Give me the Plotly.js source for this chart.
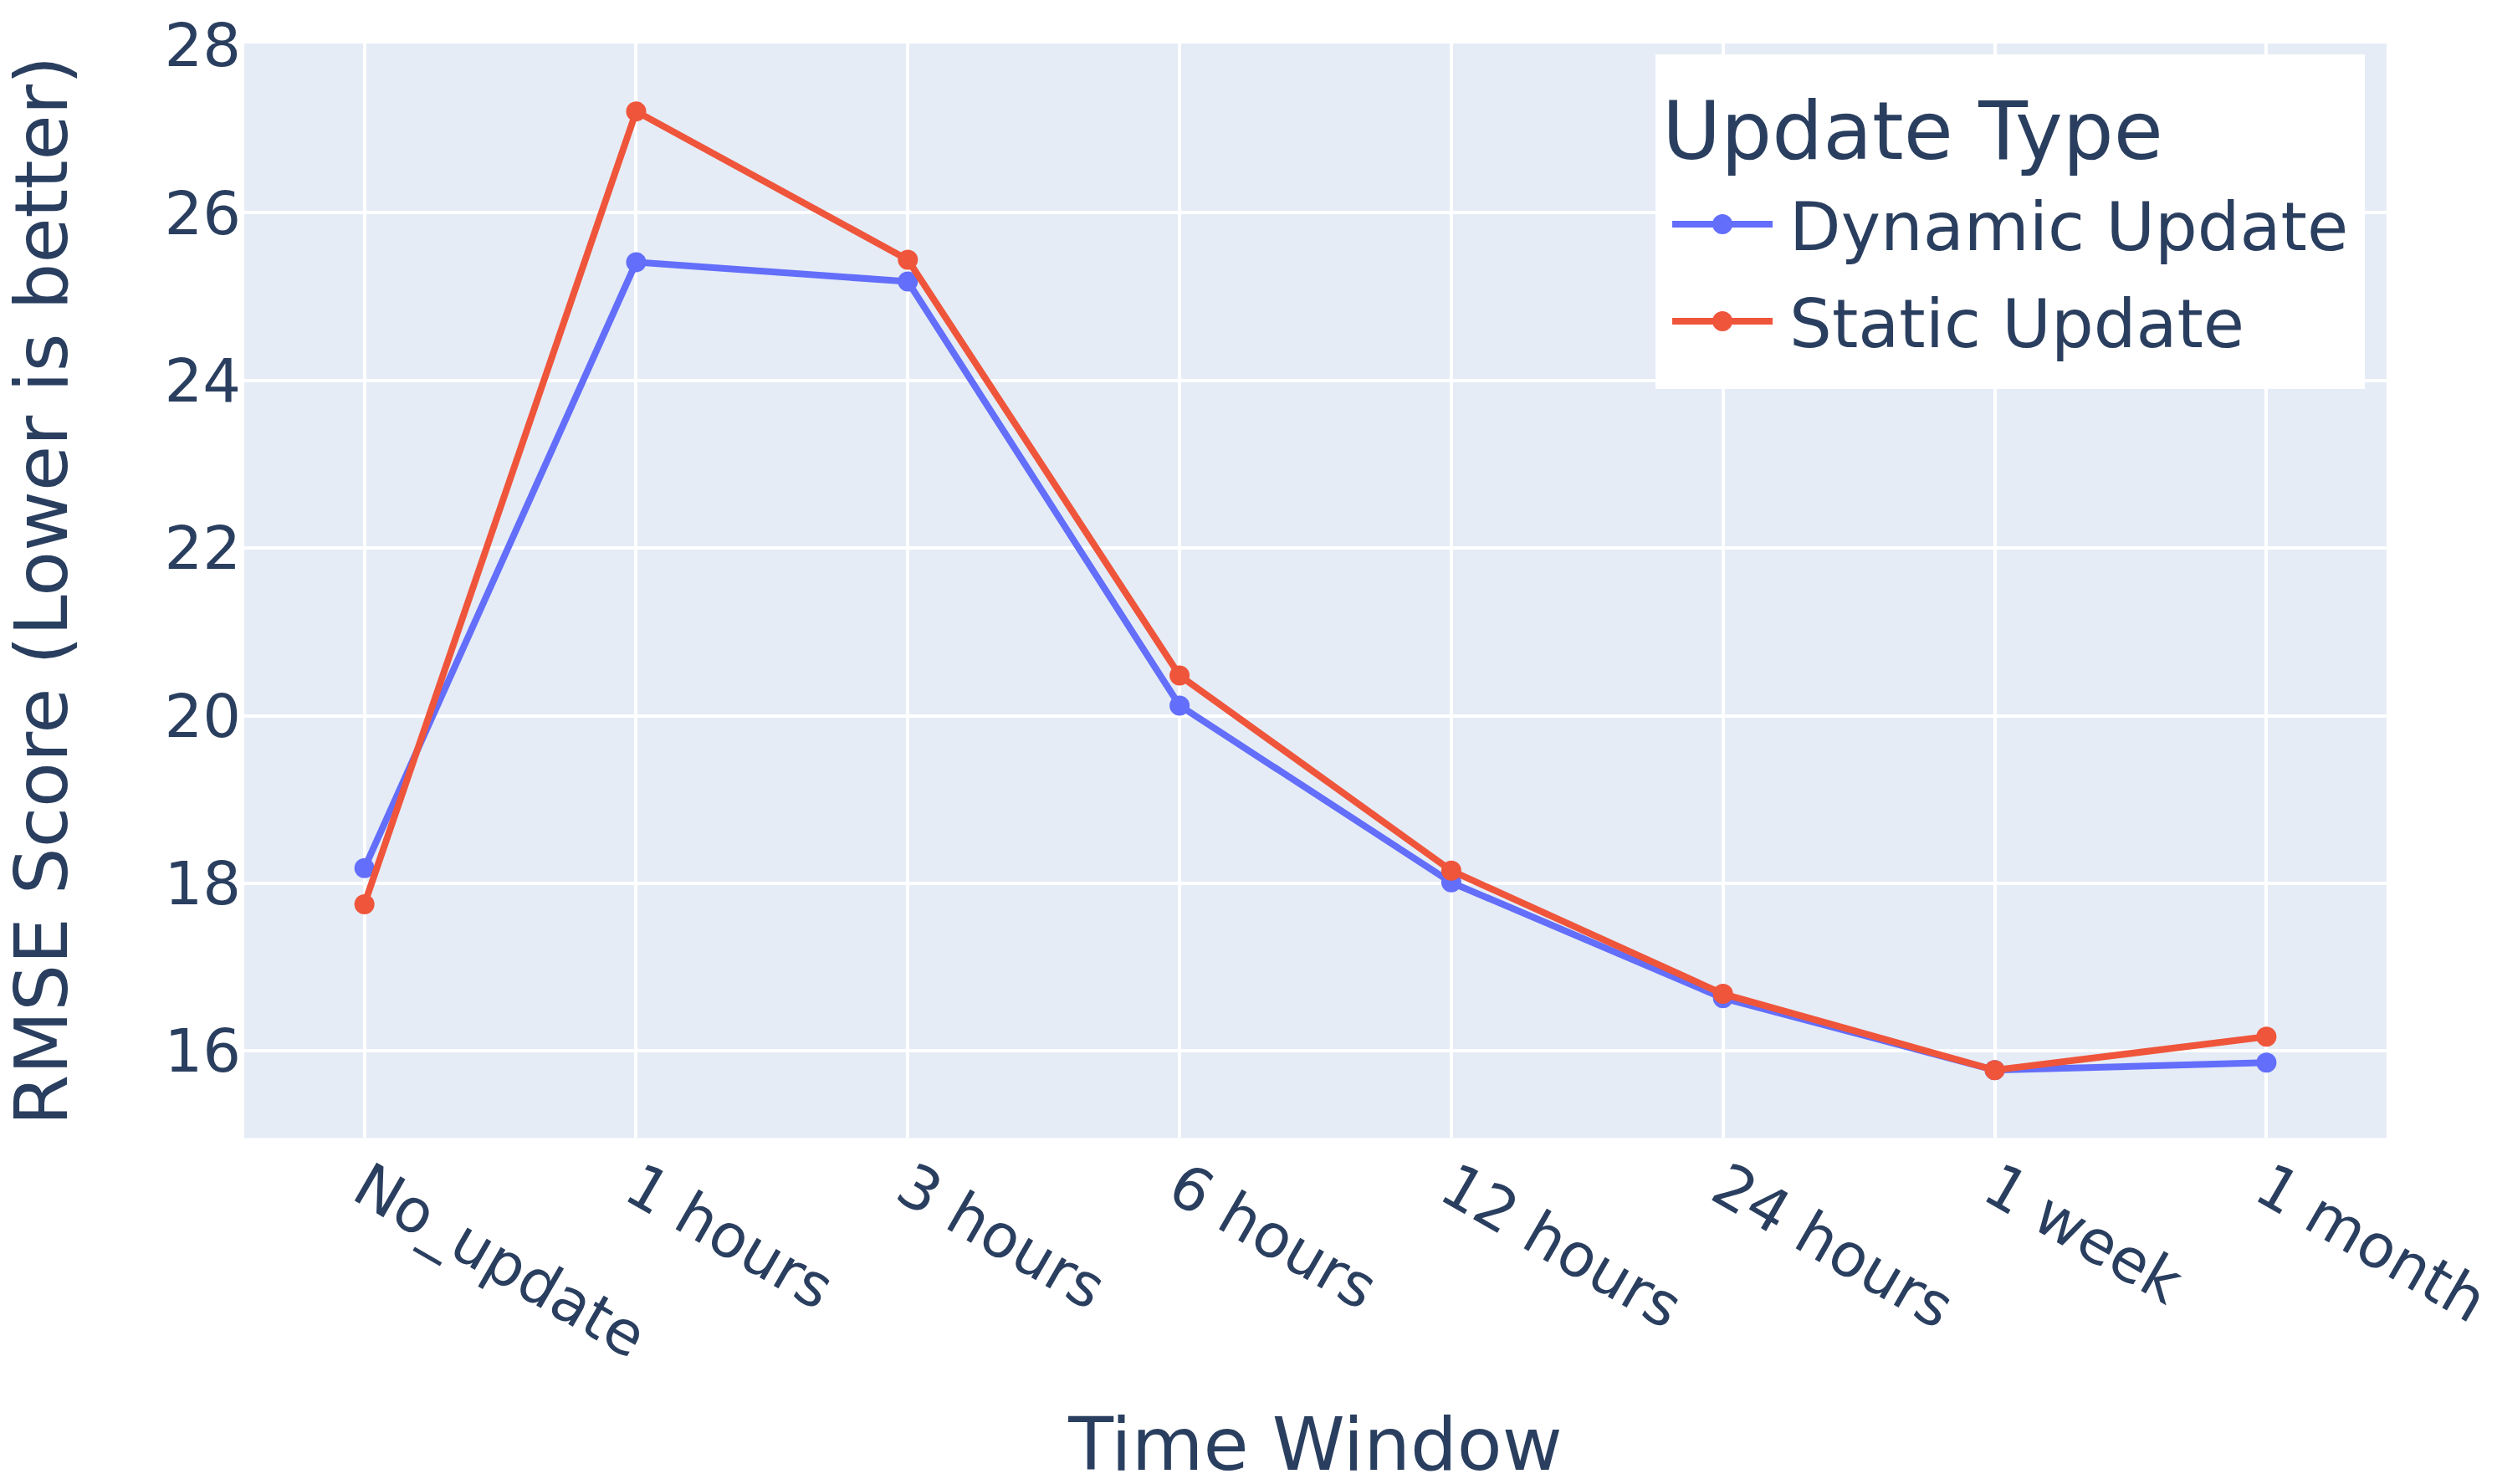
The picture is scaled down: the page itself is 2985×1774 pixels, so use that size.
<!DOCTYPE html>
<html>
<head>
<meta charset="utf-8">
<script src="https://cdn.plot.ly/plotly-3.0.1.min.js"></script>
<style>
html,body{margin:0;padding:0;background:#fff;overflow:hidden;}
#wrap{width:2985px;height:1774px;overflow:hidden;}
#chart{width:746px;height:444px;transform:scale(4.0013);transform-origin:0 0;}
</style>
</head>
<body>
<div id="wrap"><div id="chart"></div></div>
<script>
const timeWindows = ["No_update", "1 hours", "3 hours", "6 hours", "12 hours", "24 hours", "1 week", "1 month"];
const dynamicRmse = [18.18, 25.41, 25.18, 20.12, 18.01, 16.63, 15.77, 15.86];
const staticRmse  = [17.75, 27.21, 25.44, 20.48, 18.15, 16.68, 15.77, 16.17];
const seriesNames = ["Dynamic Update", "Static Update"];

const FONT = "DejaVu Sans, Verdana, sans-serif";
const INK = "#2a3f5f";

const traces = [
  {x: timeWindows, y: dynamicRmse, name: seriesNames[0], type: "scatter", mode: "lines+markers",
   line: {color: "#636EFA", width: 2}, marker: {color: "#636EFA", size: 6}},
  {x: timeWindows, y: staticRmse, name: seriesNames[1], type: "scatter", mode: "lines+markers",
   line: {color: "#EF553B", width: 2}, marker: {color: "#EF553B", size: 6}}
];

const layout = {
  width: 746, height: 444,
  margin: {l: 73, r: 33, t: 13, b: 104},
  paper_bgcolor: "#ffffff",
  plot_bgcolor: "#E5ECF6",
  font: {family: FONT, color: INK, size: 18},
  showlegend: true,
  legend: {
    x: 0.99, y: 0.99, xanchor: "right", yanchor: "top",
    bgcolor: "#ffffff",
    title: {text: "Update Type", font: {size: 24, color: INK, family: FONT}},
    font: {size: 20, color: INK, family: FONT}
  },
  xaxis: {
    type: "category",
    range: [-0.442, 7.442],
    tickangle: 30,
    tickfont: {size: 18},
    gridcolor: "#ffffff", gridwidth: 1,
    showline: false, zeroline: false,
    ticks: "",
    automargin: false,
    title: {text: "Time Window", font: {size: 22}, standoff: 14}
  },
  yaxis: {
    range: [14.96, 28.02],
    dtick: 2, tick0: 0,
    tickfont: {size: 18},
    gridcolor: "#ffffff", gridwidth: 1,
    showline: false, zeroline: false,
    ticks: "",
    title: {text: "RMSE Score (Lower is better)", font: {size: 22}}
  }
};

Plotly.newPlot("chart", traces, layout, {displayModeBar: false, staticPlot: true});
</script>
</body>
</html>
